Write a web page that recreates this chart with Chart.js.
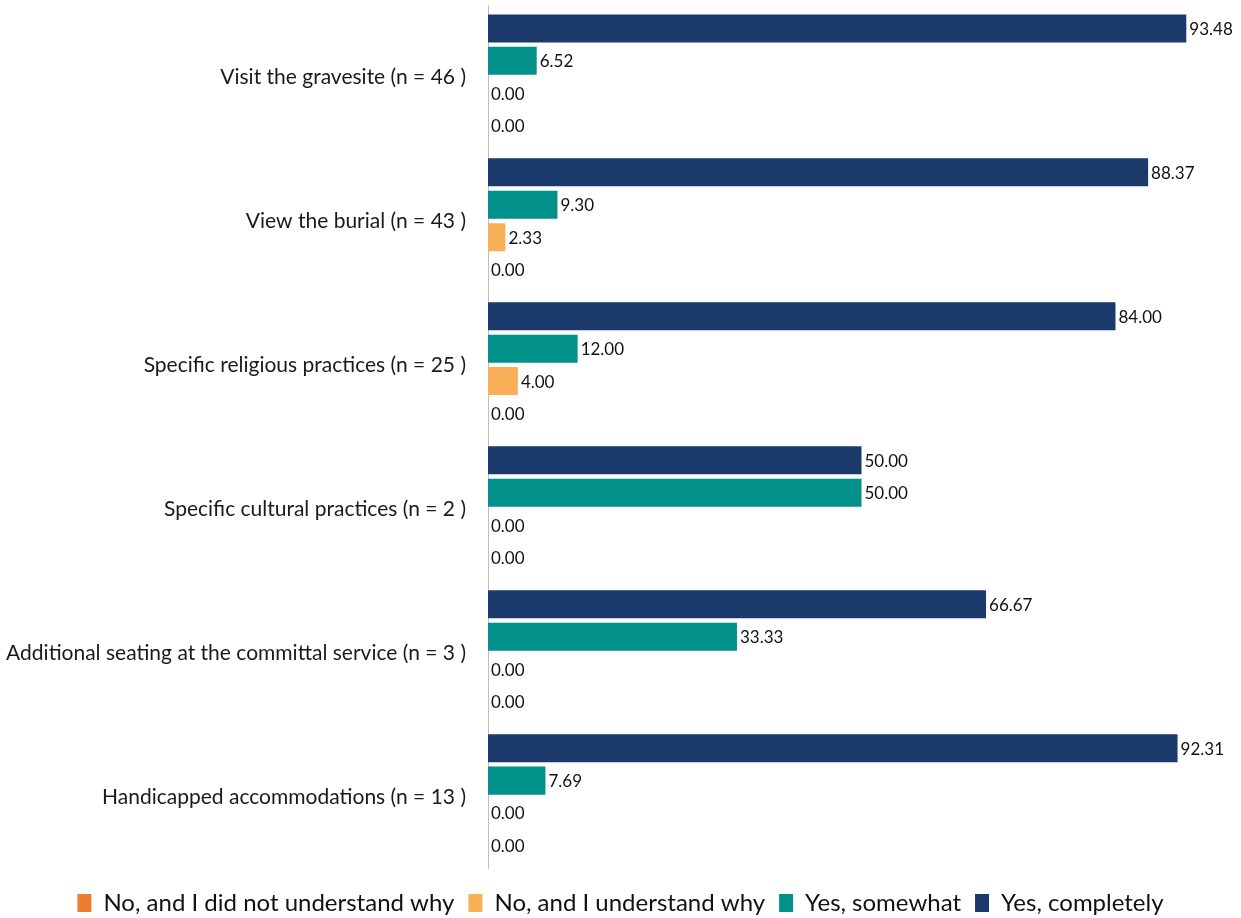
<!DOCTYPE html>
<html><head><meta charset="utf-8">
<script src="https://cdn.jsdelivr.net/npm/chart.js@4/dist/chart.umd.min.js"></script>
<style>html,body{margin:0;padding:0;background:#fff;}#wrap{width:1241px;height:918px;position:relative;}</style>
</head><body><div id="wrap"><canvas id="c"></canvas></div>
<script>
const categories = [
  "Visit the gravesite (n = 46 )",
  "View the burial (n = 43 )",
  "Specific religious practices (n = 25 )",
  "Specific cultural practices (n = 2 )",
  "Additional seating at the committal service (n = 3 )",
  "Handicapped accommodations (n = 13 )"
];
const seriesNames = ["Yes, completely", "Yes, somewhat", "No, and I understand why", "No, and I did not understand why"];
const yesCompletely = [93.48, 88.37, 84.00, 50.00, 66.67, 92.31];
const yesSomewhat = [6.52, 9.30, 12.00, 50.00, 33.33, 7.69];
const noUnderstand = [0.00, 2.33, 4.00, 0.00, 0.00, 0.00];
const noNotUnderstand = [0.00, 0.00, 0.00, 0.00, 0.00, 0.00];
const colors = ["#1B3A6B", "#00918A", "#F9AF57", "#ED7D31"];
const FONT = "Lato, 'Open Sans', sans-serif";

const labelPlugin = {
  id: 'barLabels',
  afterDatasetsDraw(chart) {
    const ctx = chart.ctx;
    ctx.save();
    ctx.font = "17px " + FONT;
    ctx.fillStyle = "#111";
    ctx.textBaseline = "middle";
    ctx.textAlign = "left";
    chart.data.datasets.forEach((ds, i) => {
      const meta = chart.getDatasetMeta(i);
      meta.data.forEach((bar, j) => {
        ctx.fillText(ds.data[j].toFixed(2), bar.x + 3, bar.y + 1);
      });
    });
    ctx.restore();
  }
};

const data = [yesCompletely, yesSomewhat, noUnderstand, noNotUnderstand];
new Chart(document.getElementById('c'), {
  type: 'bar',
  data: {
    labels: categories,
    datasets: seriesNames.map((n, i) => ({
      label: n, data: data[i], backgroundColor: colors[i],
      categoryPercentage: 0.9, barPercentage: 0.865
    }))
  },
  options: {
    indexAxis: 'y',
    responsive: true,
    maintainAspectRatio: false,
    animation: false,
    layout: { padding: { left: 6, right: 6, top: 5, bottom: -7 } },
    scales: {
      x: { min: 0, max: 100, display: false, grid: { display: false } },
      y: {
        grid: { display: false, drawTicks: false },
        border: { display: true, color: '#BFBFBF', width: 1 },
        ticks: { color: '#1a1a1a', font: { size: 21, family: FONT }, padding: 22 },
        afterFit(scale) { scale.width = 482; scale.paddingTop = 0; scale.paddingBottom = 0; }
      }
    },
    plugins: {
      legend: {
        position: 'bottom', reverse: true,
        title: { display: true, text: '', font: { size: 1 }, padding: { top: 0, bottom: 7 } },
        labels: { color: '#111', font: { size: 24, family: FONT }, boxWidth: 14, boxHeight: 18, padding: 14 }
      },
      tooltip: { enabled: false }
    }
  },
  plugins: [labelPlugin]
});
</script></body></html>
